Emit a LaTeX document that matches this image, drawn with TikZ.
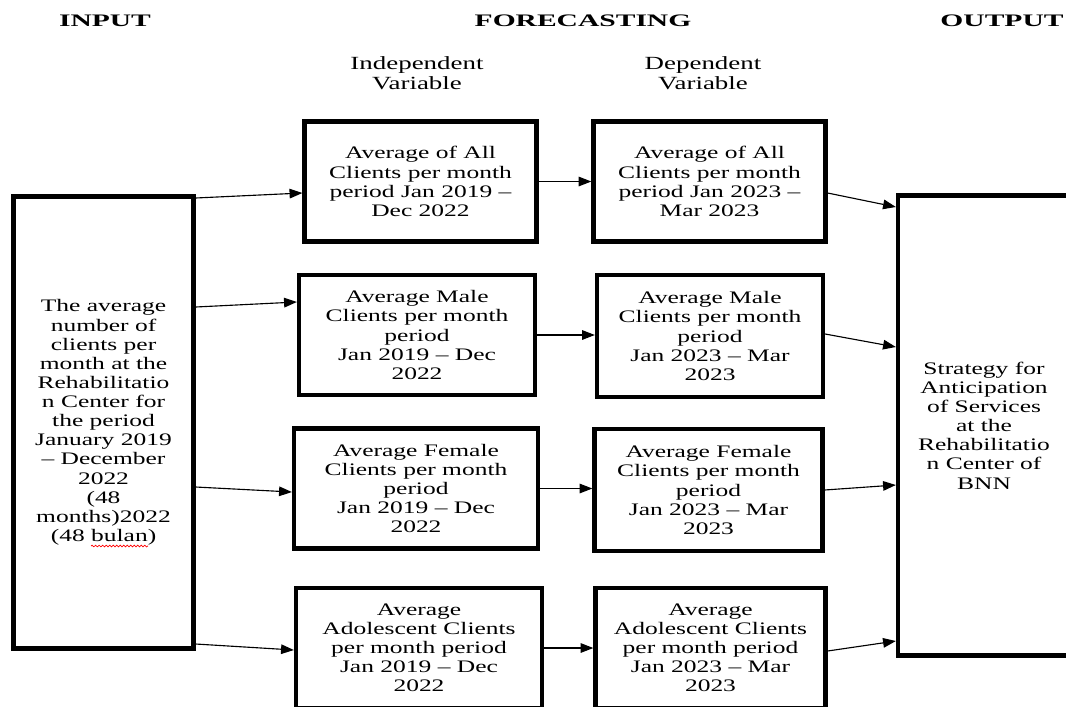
\documentclass[tikz,border=0pt]{standalone}
\usepackage{fontspec}
\setmainfont{Liberation Serif}[FakeStretch=1.45]
\newfontfamily\headfont{Liberation Serif}[FakeStretch=1.68]
\usetikzlibrary{arrows.meta, positioning, calc, decorations.pathmorphing}
\newcommand{\pxu}{0.025cm}
\tikzset{
    varBox/.style={
        rectangle, draw=black, line width=3pt, fill=white,
        inner sep=2pt, align=center,
        font=\fontsize{12.5}{13.6}\selectfont
    },
    headLabel/.style={
        font=\headfont\fontsize{12.5}{14}\selectfont\bfseries
    },
    colLabel/.style={
        align=center, font=\fontsize{13.2}{14.6}\selectfont
    },
    flowArrow/.style={
        -{Triangle[length=3.2mm, width=2.4mm]},
        line width=0.8pt, draw=black
    },
    spellWave/.style={
        draw=red, line width=0.5pt, decorate,
        decoration={snake, amplitude=0.6pt, segment length=2.5pt}
    }
}

\begin{document}
\begin{tikzpicture}[x=\pxu, y=-\pxu]

	\useasboundingbox (0,0) rectangle (1066,706);
	\clip (0,0) rectangle (1066,706);

	% =========================================================
	% Headings
	% =========================================================

	\node [headLabel] (hInput) at (105,21) {INPUT};
	\node [headLabel] (hFore) at (583,21) {FORECASTING};
	\node [headLabel] (hOutput) at (1002,21) {OUTPUT};

	\node [colLabel] (hIndep) at (417,73) {Independent\\Variable};
	\node [colLabel] (hDep) at (703,73) {Dependent\\Variable};

	% =========================================================
	% Input
	% =========================================================

	\node [varBox, minimum width=4.5cm, minimum height=11.3cm] (inBox) at (103.5,422.5) {
		The average\\
		number of\\
		clients per\\
		month at the\\
		Rehabilitatio\\
		n Center for\\
		the period\\
		January 2019\\
		-- December\\
		2022\\
		(48\\
		months)2022\\
		(48 bulan)
	};

	% spell-check mark under the last word
	\draw [spellWave] (91,546) -- (148,546);

	% =========================================================
	% Independent Variables
	% =========================================================

	\node [varBox, minimum width=5.8cm, minimum height=3cm] (indep1) at (420.5,181.5) {
		Average of All\\
		Clients per month\\
		period Jan 2019 --\\
		Dec 2022
	};

	\node [varBox, minimum width=5.9cm, minimum height=3cm] (indep2) at (417,335) {
		Average Male\\
		Clients per month\\
		period\\
		Jan 2019 -- Dec\\
		2022
	};

	\node [varBox, minimum width=6.1cm, minimum height=3cm] (indep3) at (416,488.5) {
		Average Female\\
		Clients per month\\
		period\\
		Jan 2019 -- Dec\\
		2022
	};

	\node [varBox, minimum width=6.15cm, minimum height=3cm] (indep4) at (419,648) {
		Average\\
		Adolescent Clients\\
		per month period\\
		Jan 2019 -- Dec\\
		2022
	};

	% =========================================================
	% Dependent Variables
	% =========================================================

	\node [varBox, minimum width=5.8cm, minimum height=3cm] (dep1) at (709.5,181.5) {
		Average of All\\
		Clients per month\\
		period Jan 2023 --\\
		Mar 2023
	};

	\node [varBox, minimum width=5.65cm, minimum height=3.05cm] (dep2) at (710,336) {
		Average Male\\
		Clients per month\\
		period\\
		Jan 2023 -- Mar\\
		2023
	};

	\node [varBox, minimum width=5.7cm, minimum height=3.05cm] (dep3) at (708.5,490) {
		Average Female\\
		Clients per month\\
		period\\
		Jan 2023 -- Mar\\
		2023
	};

	\node [varBox, minimum width=5.75cm, minimum height=3cm] (dep4) at (710.5,648) {
		Average\\
		Adolescent Clients\\
		per month period\\
		Jan 2023 -- Mar\\
		2023
	};

	% =========================================================
	% Output
	% =========================================================

	\node [varBox, minimum width=4.3cm, minimum height=11.5cm] (outBox) at (984,425.5) {
		Strategy for\\
		Anticipation\\
		of Services\\
		at the\\
		Rehabilitatio\\
		n Center of\\
		BNN
	};

	% =========================================================
	% Connectors
	% =========================================================

	\foreach \i/\a/\b in {1/224.5/-11.5, 2/115.5/33, 3/-64.5/-3.5, 4/-221.5/-2} {
			\draw [flowArrow] ([yshift=\a*\pxu]inBox.east) -- ([yshift=\b*\pxu]indep\i.west);
		}

	\foreach \i in {1,2,3,4} {
			\draw [flowArrow] (indep\i.east) -- (indep\i.east -| dep\i.west);
		}

	\foreach \i/\a/\b in {1/-11.5/218.5, 2/2/78.5, 3/0/-59.5, 4/-3/-215.5} {
			\draw [flowArrow] ([yshift=\a*\pxu]dep\i.east) -- ([yshift=\b*\pxu]outBox.west);
		}

\end{tikzpicture}
\end{document}
